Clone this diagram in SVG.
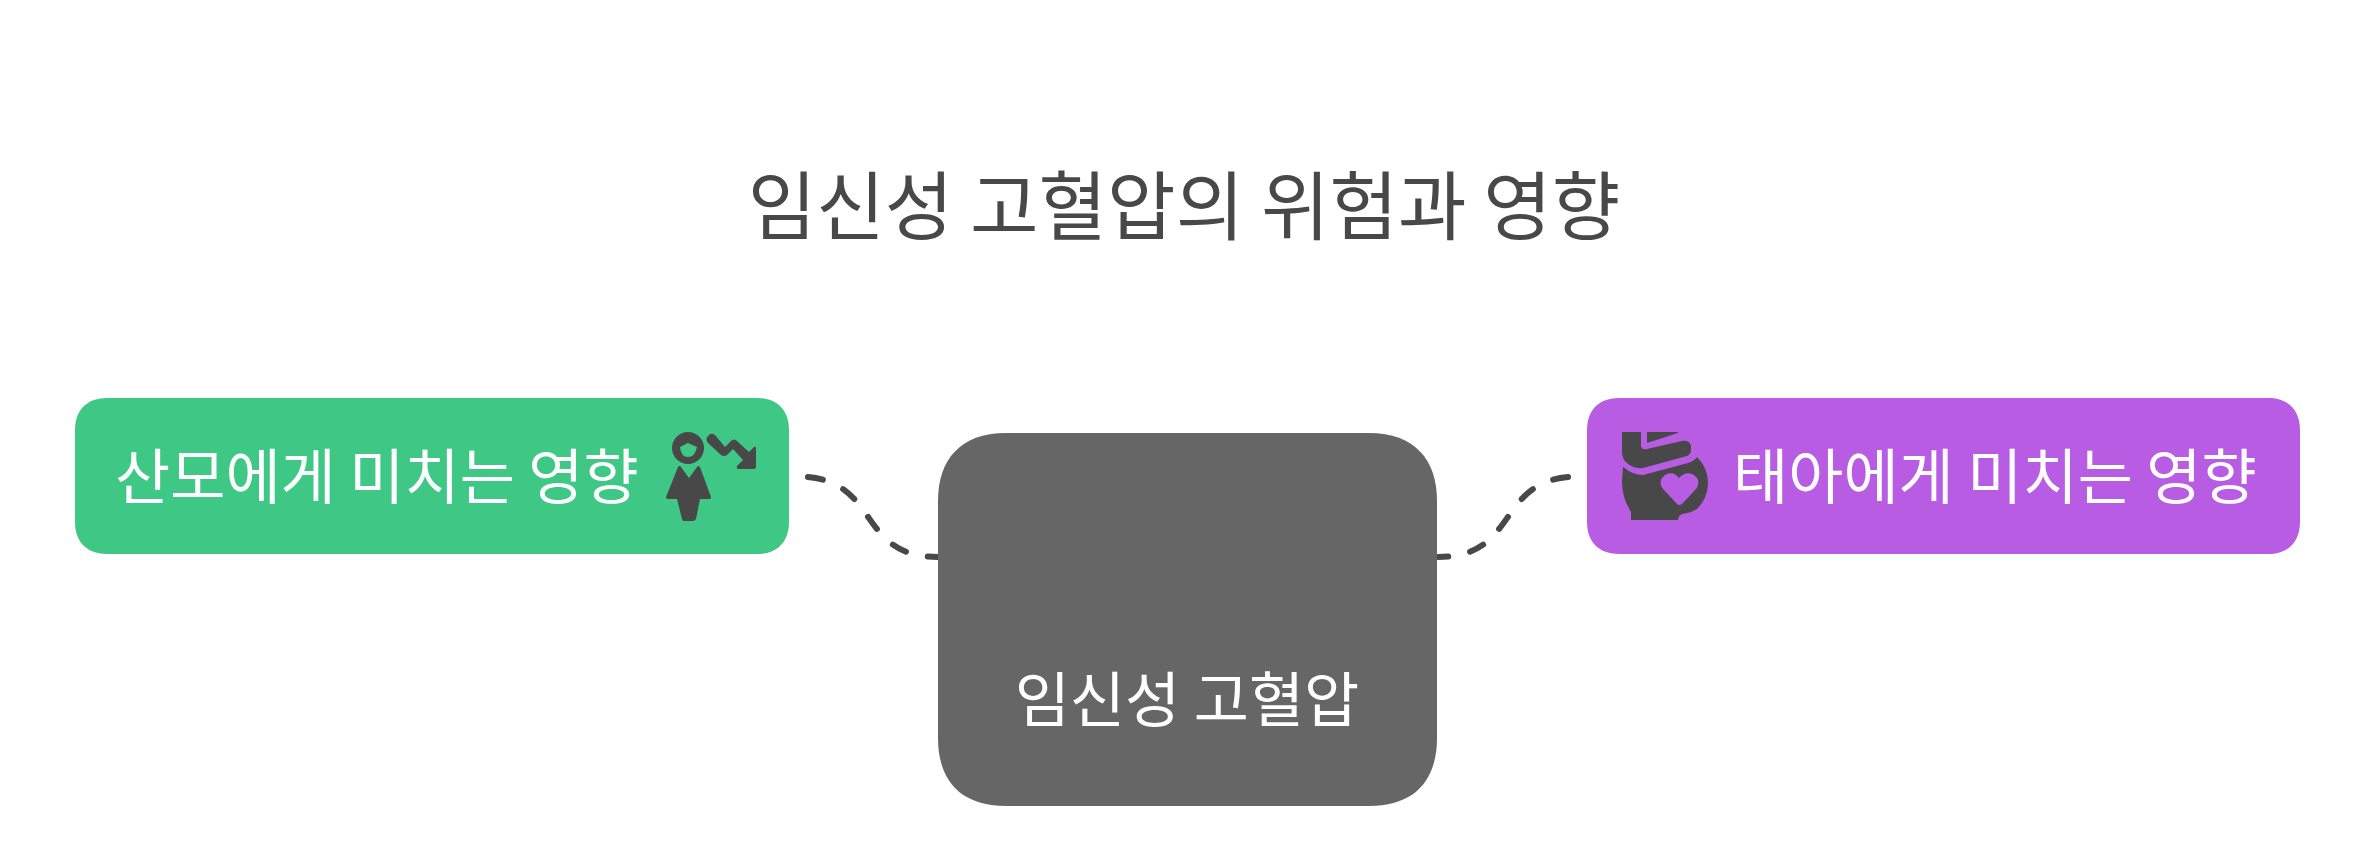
<svg xmlns="http://www.w3.org/2000/svg" width="2376" height="849" viewBox="0 0 2376 849">
<style>
text{font-family:"Noto Sans CJK KR","Noto Sans",sans-serif;font-weight:400}
.t{font-size:60px;fill:#fff}
.c{fill:none;stroke:#484848;stroke-width:6;stroke-linecap:round;stroke-dasharray:15 22.5}
.i{fill:#484848}
</style>
<rect width="2376" height="849" fill="#fff"/>
<text id="title" x="1184" y="234" text-anchor="middle" font-size="74.5" fill="#484848">임신성 고혈압의 위험과 영향</text>
<g id="connectors">
<path class="c" d="M808 477C880 484 858 557 938 557"/>
<path class="c" d="M1568 477C1496 484 1518 557 1438 557"/>
</g>
<g id="center">
<path d="M1006 433H1369C1415 433 1437 460 1437 501V738C1437 780 1415 806 1369 806H1006C960 806 938 780 938 738V501C938 460 960 433 1006 433Z" fill="#666"/>
<text class="t" x="1187" y="722" text-anchor="middle">임신성 고혈압</text>
</g>
<g id="maternal">
<path d="M107 398H757C779 398 789 412 789 430V522C789 540 779 554 757 554H107C85 554 75 540 75 522V430C75 412 85 398 107 398Z" fill="#3fc885"/>
<text class="t" x="115" y="499">산모에게 미치는 영향</text>
<circle class="i" cx="688" cy="448" r="16"/>
<path d="M680 447L688 443L697 447Q695 457 688 457T680 447Z" fill="#3fc885"/>
<path class="i" d="M678 467Q680 465 681 467L689 478L697 467Q698 465 700 467L711 497Q711 499 709 499H700L696 519Q695 521 693 521H685Q682 521 682 519L677 499H668Q666 499 666 497Z"/>
<path class="i" d="M708 436Q711 432 715 435L725 447L731 441Q734 438 737 441L749 452L754 447Q756 446 756 448V467Q756 469 754 469H738Q736 468 737 466L743 460L733 449L727 455Q724 457 721 455L708 443Q705 439 708 436Z"/>
</g>
<g id="fetal">
<path d="M1619 398H2268C2290 398 2300 412 2300 430V522C2300 540 2290 554 2268 554H1619C1597 554 1587 540 1587 522V430C1587 412 1597 398 1619 398Z" fill="#b85de3"/>
<path class="i" d="M1622 432H1641V446Q1642 450 1647 449L1682 441Q1690 440 1691 446V450Q1691 454 1687 456L1643 468Q1633 469 1627 463Q1622 459 1622 452Z"/>
<path class="i" d="M1647 432H1678V433L1647 443Z"/>
<path class="i" d="M1697 457Q1708 468 1708 483Q1708 498 1697 509Q1691 513 1682 514Q1678 516 1678 520H1631V512Q1622 498 1622 482L1623 467Q1633 475 1643 475L1688 463Q1694 461 1697 457Z"/>
<path d="M1679 478C1684 472 1691 472 1695 476C1700 480 1699 486 1695 490L1682 504Q1679 506 1677 504L1664 490C1660 486 1659 480 1664 476C1668 472 1675 472 1679 478Z" fill="#b85de3"/>
<text class="t" x="1733" y="499">태아에게 미치는 영향</text>
</g>
</svg>
